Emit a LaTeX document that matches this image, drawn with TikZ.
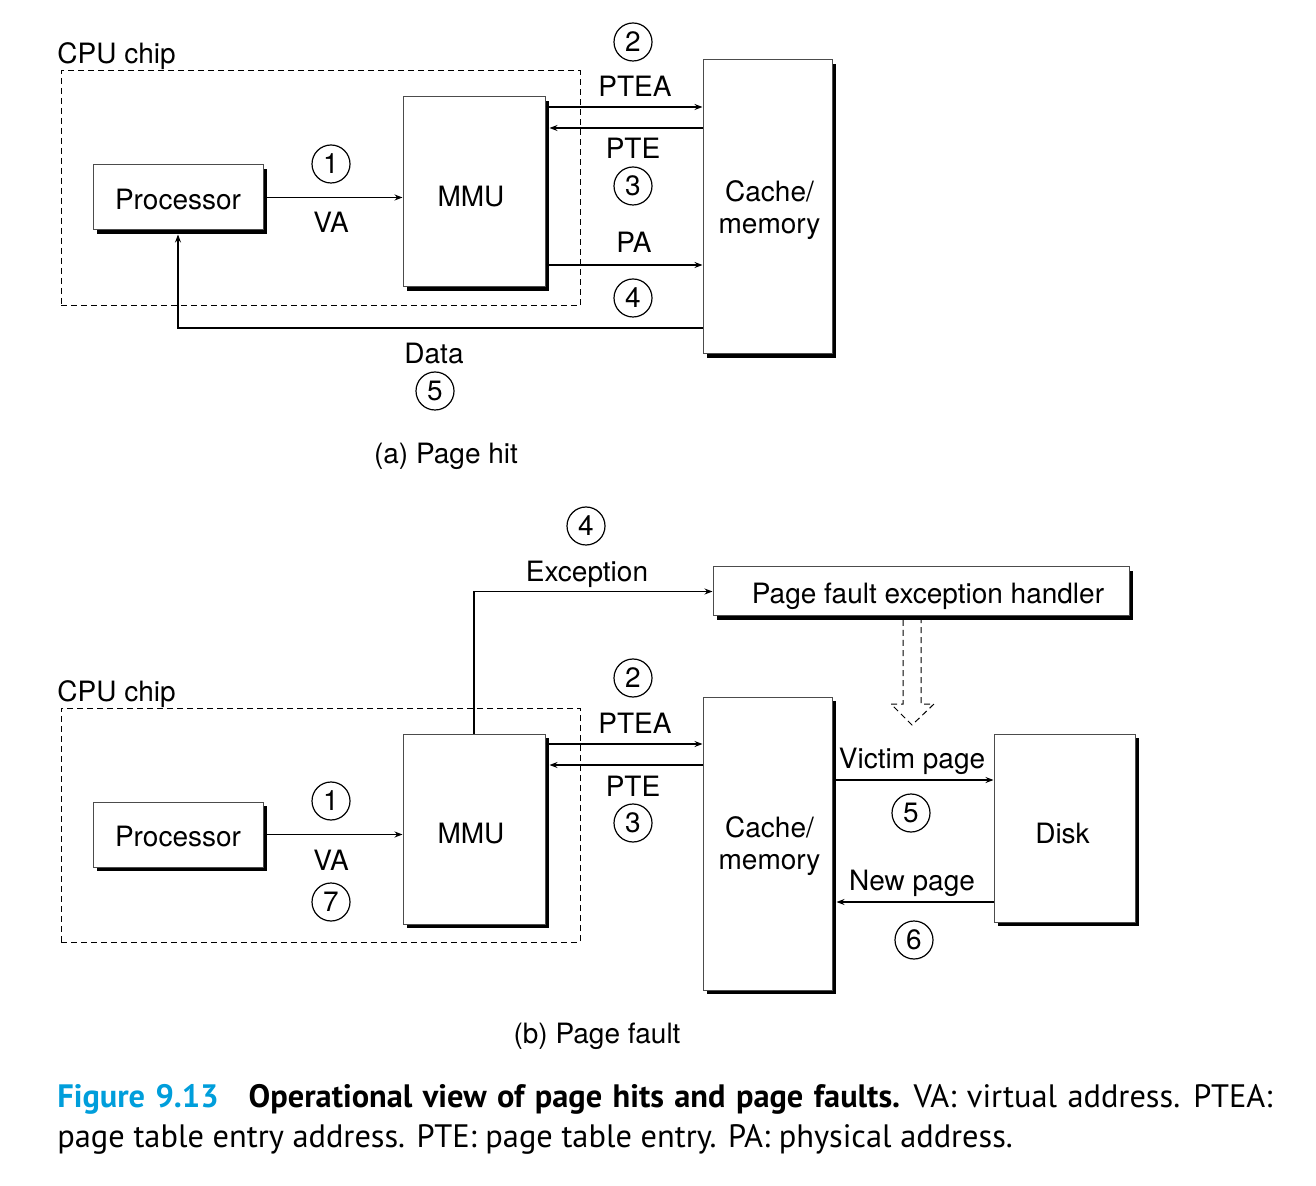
\documentclass[tikz,border=0pt]{standalone}
\usepackage{fontspec}
\setmainfont{TeX Gyre Heros}
\newfontfamily\capfont{PT Sans}
\usetikzlibrary{arrows.meta,shadows}
\definecolor{figblue}{RGB}{0,158,219}
\newcommand{\dnshift}[2]{\raisebox{-#1}[\height][\depth]{#2}}
\begin{document}
\begin{tikzpicture}[x=0.5pt,y=-0.5pt,
  every node/.style={font=\fontsize{14}{16}\selectfont},
  blk/.style={draw=black!70, line width=0.5pt, fill=white, inner sep=0pt,
    drop shadow={shadow xshift=2pt, shadow yshift=-2pt, opacity=1, fill=black}},
  dashbox/.style={draw, dash pattern=on 3pt off 2pt, line width=0.5pt, inner sep=0pt},
  num/.style={circle, draw, line width=0.6pt, minimum size=19pt, inner sep=0pt},
  lbl/.style={anchor=base, inner sep=0pt},
  arr/.style={line width=0.6pt, -{Stealth[length=4pt,width=3pt]}}]
\useasboundingbox (0,0) rectangle (1316,1186);

% ---------------- (a) Page hit ----------------
\node[dashbox, minimum width=259.5pt, minimum height=117.5pt] (cpuA) at (320.5,188.5) {};
\node[lbl, anchor=base west] (cpuAl) at (57,64) {CPU chip};
\node[blk, minimum width=85pt, minimum height=32.5pt] (procA) at (178,197.5) {\dnshift{1pt}{Processor}};
\node[blk, minimum width=71pt, minimum height=95pt] (mmuA) at (474,192) {\dnshift{2.5pt}{\hspace*{-3pt}MMU}};
\node[blk, minimum width=64.5pt, minimum height=147pt] (cacheA) at (767.5,207)
  {\dnshift{2pt}{\hspace*{2pt}\begin{tabular}{@{}c@{}}Cache/\\memory\end{tabular}}};

\draw[arr] (procA.east) -- (procA.east -| mmuA.west);
\draw[arr] (mmuA.east |- 0,107) -- (cacheA.west |- 0,107);
\draw[arr, shorten >=2pt] (cacheA.west |- 0,128) -- (mmuA.east |- 0,128);
\draw[arr] (mmuA.east |- 0,265) -- (cacheA.west |- 0,265);
\draw[arr, shorten >=2pt] (cacheA.west |- 0,328) -| (procA.south);

\node[num] (a1) at (331,164) {1};
\node[lbl] (aVA) at (331,233) {VA};
\node[num] (a2) at (633,42) {2};
\node[lbl] (aPTEA) at (635,97) {PTEA};
\node[lbl] (aPTE) at (633,159) {PTE};
\node[num] (a3) at (633,186) {3};
\node[lbl] (aPA) at (634,253) {PA};
\node[num] (a4) at (633,298) {4};
\node[lbl] (aData) at (434,364) {Data};
\node[num] (a5) at (435,391) {5};
\node[lbl] (aCap) at (446,464) {(a) Page hit};

% ---------------- (b) Page fault ----------------
\node[dashbox, minimum width=259.5pt, minimum height=117pt] (cpuB) at (320.5,825) {};
\node[lbl, anchor=base west] (cpuBl) at (57,701) {CPU chip};
\node[blk, minimum width=85pt, minimum height=32.5pt] (procB) at (178,834.5) {\dnshift{1pt}{Processor}};
\node[blk, minimum width=71pt, minimum height=95pt] (mmuB) at (474,829) {\dnshift{2.5pt}{\hspace*{-3pt}MMU}};
\node[blk, minimum width=64.5pt, minimum height=146.5pt] (cacheB) at (767.5,843.5)
  {\dnshift{2pt}{\hspace*{2pt}\begin{tabular}{@{}c@{}}Cache/\\memory\end{tabular}}};
\node[blk, minimum width=70.5pt, minimum height=94pt] (diskB) at (1064.5,828) {\dnshift{3pt}{\hspace*{-2pt}Disk}};
\node[blk, minimum width=208pt, minimum height=24.5pt] (handler) at (921,591.5)
  {\dnshift{2.5pt}{\hspace*{7pt}Page fault exception handler}};

\draw[arr] (procB.east) -- (procB.east -| mmuB.west);
\draw[arr] (mmuB.north) |- (handler.west);
\draw[arr] (mmuB.east |- 0,744) -- (cacheB.west |- 0,744);
\draw[arr, shorten >=2pt] (cacheB.west |- 0,765) -- (mmuB.east |- 0,765);
\draw[arr] (cacheB.east |- 0,780) -- (diskB.west |- 0,780);
\draw[arr, shorten >=2pt] (diskB.west |- 0,902) -- (cacheB.east |- 0,902);

% hollow dashed arrow
\draw[dash pattern=on 3pt off 2pt, line width=0.5pt]
  (903,620) -- (903,704) -- (891,704) -- (912,725) -- (934,704) -- (921,704) -- (921,620);

\node[num] (b4) at (586,526) {4};
\node[lbl] (bExc) at (587,582) {Exception};
\node[num] (b2) at (633,678) {2};
\node[lbl] (bPTEA) at (635,733) {PTEA};
\node[lbl] (bPTE) at (633,796) {PTE};
\node[num] (b3) at (633,823) {3};
\node[num] (b1) at (331,801) {1};
\node[lbl] (bVA) at (331,870) {VA};
\node[num] (b7) at (331,902) {7};
\node[lbl] (bVic) at (912,768) {Victim page};
\node[num] (b5) at (911,813) {5};
\node[lbl] (bNew) at (912,890) {New page};
\node[num] (b6) at (914,940) {6};
\node[lbl] (bCap) at (597,1043) {(b) Page fault};

% ---------------- caption ----------------
\node[anchor=base west, inner sep=0pt, font=\capfont\fontsize{16.2}{19}\selectfont] (cap1) at (57,1107)
  {\spaceskip=5.2pt\relax\textcolor{figblue}{\bfseries Figure 9.13}\hspace{15pt}{\bfseries Operational view of page hits and page faults.} VA: virtual address. PTEA:};
\node[anchor=base west, inner sep=0pt, font=\capfont\fontsize{16.2}{19}\selectfont] (cap2) at (57,1147)
  {page table entry address. PTE: page table entry. PA: physical address.};
\end{tikzpicture}
\end{document}
